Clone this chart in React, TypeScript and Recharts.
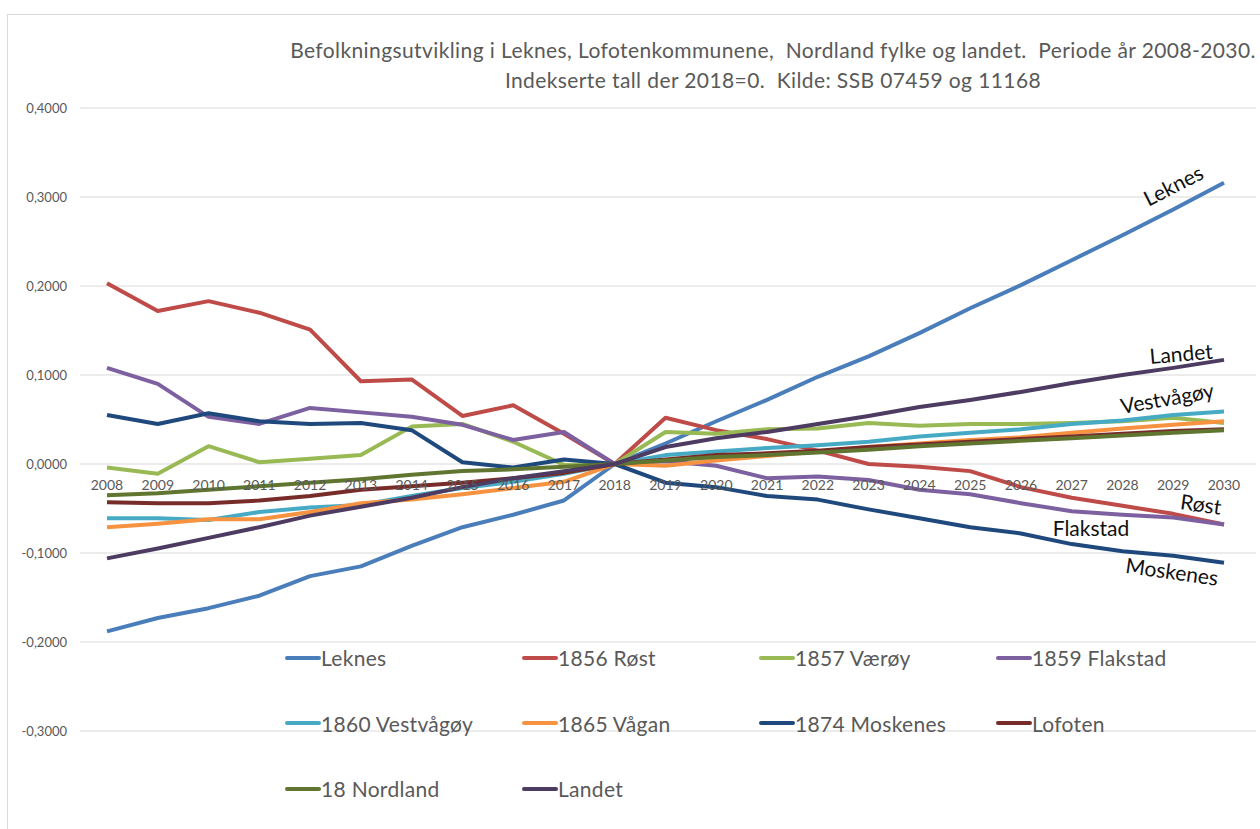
import { LineChart, Line, XAxis, YAxis, CartesianGrid, LabelList } from 'recharts';

const years = ['2008', '2009', '2010', '2011', '2012', '2013', '2014', '2015', '2016', '2017', '2018', '2019',
    '2020', '2021', '2022', '2023', '2024', '2025', '2026', '2027', '2028', '2029', '2030'];

const leknes = [-0.188, -0.173, -0.162, -0.148, -0.126, -0.115, -0.092, -0.071, -0.057, -0.041, 0, 0.023,
    0.048, 0.072, 0.098, 0.121, 0.147, 0.175, 0.201, 0.229, 0.257, 0.286, 0.316];
const rost = [0.203, 0.172, 0.183, 0.170, 0.151, 0.093, 0.095, 0.054, 0.066, 0.034, 0, 0.052,
    0.038, 0.028, 0.015, 0.000, -0.003, -0.008, -0.026, -0.038, -0.047, -0.056, -0.068];
const varoy = [-0.004, -0.011, 0.020, 0.002, 0.006, 0.010, 0.042, 0.045, 0.025, -0.001, 0, 0.036,
    0.034, 0.039, 0.040, 0.046, 0.043, 0.045, 0.045, 0.046, 0.048, 0.052, 0.046];
const flakstad = [0.108, 0.090, 0.053, 0.045, 0.063, 0.058, 0.053, 0.044, 0.027, 0.036, 0, 0.003,
    -0.002, -0.016, -0.014, -0.018, -0.029, -0.034, -0.044, -0.053, -0.057, -0.060, -0.068];
const vestvagoy = [-0.061, -0.061, -0.063, -0.054, -0.049, -0.046, -0.036, -0.027, -0.020, -0.011, 0, 0.010,
    0.014, 0.018, 0.021, 0.025, 0.031, 0.035, 0.039, 0.045, 0.049, 0.055, 0.059];
const vagan = [-0.071, -0.067, -0.062, -0.062, -0.054, -0.044, -0.040, -0.034, -0.027, -0.020, 0, -0.002,
    0.004, 0.009, 0.014, 0.019, 0.023, 0.027, 0.030, 0.035, 0.040, 0.044, 0.048];
const moskenes = [0.055, 0.045, 0.057, 0.048, 0.045, 0.046, 0.038, 0.002, -0.004, 0.005, 0, -0.021,
    -0.026, -0.036, -0.040, -0.051, -0.061, -0.071, -0.078, -0.090, -0.098, -0.103, -0.111];
const lofoten = [-0.043, -0.044, -0.044, -0.041, -0.036, -0.029, -0.025, -0.021, -0.016, -0.010, 0, 0.005,
    0.010, 0.012, 0.015, 0.019, 0.022, 0.025, 0.028, 0.031, 0.034, 0.037, 0.039];
const nordland = [-0.035, -0.033, -0.029, -0.025, -0.021, -0.017, -0.012, -0.008, -0.006, -0.003, 0, 0.004,
    0.008, 0.010, 0.013, 0.016, 0.020, 0.023, 0.026, 0.029, 0.032, 0.035, 0.038];
const landet = [-0.106, -0.095, -0.083, -0.071, -0.058, -0.048, -0.038, -0.026, -0.016, -0.008, 0, 0.019,
    0.029, 0.036, 0.045, 0.054, 0.064, 0.072, 0.081, 0.091, 0.100, 0.108, 0.117];

// hidden baseline used to print the year labels along the 0-line, like Excel does
const zeroLine = [0, 0, 0, 0, 0, 0, 0, 0, 0, 0, 0, 0, 0, 0, 0, 0, 0, 0, 0, 0, 0, 0, 0];

const yTicks = [-0.3, -0.2, -0.1, 0, 0.1, 0.2, 0.3, 0.4];

const series = [
    { key: 'leknes', name: 'Leknes', values: leknes, color: '#4A7EBB' },
    { key: 'rost', name: '1856 Røst', values: rost, color: '#BE4B48' },
    { key: 'varoy', name: '1857 Værøy', values: varoy, color: '#98B954' },
    { key: 'flakstad', name: '1859 Flakstad', values: flakstad, color: '#7D60A0' },
    { key: 'vestvagoy', name: '1860 Vestvågøy', values: vestvagoy, color: '#46AAC5' },
    { key: 'vagan', name: '1865 Vågan', values: vagan, color: '#F69240' },
    { key: 'moskenes', name: '1874 Moskenes', values: moskenes, color: '#1F497D' },
    { key: 'lofoten', name: 'Lofoten', values: lofoten, color: '#772C2A' },
    { key: 'nordland', name: '18 Nordland', values: nordland, color: '#5F7530' },
    { key: 'landet', name: 'Landet', values: landet, color: '#4D3B62' },
];

// names written next to the last point of some lines
const endLabels: Record<string, { text: string; dx: number; dy: number; angle: number }> = {
    leknes: { text: 'Leknes', dx: -51, dy: 2, angle: -27 },
    landet: { text: 'Landet', dx: -43, dy: -7, angle: -5 },
    vestvagoy: { text: 'Vestvågøy', dx: -57, dy: -14, angle: -10 },
    rost: { text: 'Røst', dx: -23, dy: -21, angle: 8 },
    flakstad: { text: 'Flakstad', dx: -133, dy: 3, angle: 0 },
    moskenes: { text: 'Moskenes', dx: -52, dy: 8, angle: 8 },
};

const data = years.map((year, i) => {
    const row: Record<string, string | number> = { year, zero: zeroLine[i] };
    series.forEach(s => { row[s.key] = s.values[i]; });
    return row;
});

const FONT = 'Lato, "Open Sans", sans-serif';

const fmt = (v: number) => v.toFixed(4).replace('.', ',');

const makeEndLabel = (key: string) => (props: any) => {
    const cfg = endLabels[key];
    if (!cfg || props.index !== years.length - 1) return <g />;
    const x = props.x + cfg.dx;
    const y = props.y + cfg.dy;
    return (
        <text
            x={x}
            y={y}
            textAnchor='middle'
            dominantBaseline='central'
            fontSize={21}
            fontFamily={FONT}
            fill='#111'
            transform={`rotate(${cfg.angle}, ${x}, ${y})`}
        >
            {cfg.text}
        </text>
    );
};

const App = () => {
    return (
        <div style={{ position: 'absolute', left: 0, top: 0, width: 1260, height: 829, overflow: 'hidden', background: '#fff', fontFamily: FONT }}>
            <div style={{ position: 'absolute', left: 7, top: 14, width: 1300, height: 900, border: '1px solid #d9d9d9' }} />

            <div style={{
                position: 'absolute', left: 223, top: 35, width: 1100, textAlign: 'center',
                fontSize: 21, letterSpacing: 0.4, lineHeight: '30px', color: '#595959', whiteSpace: 'pre'
            }}>
                {'Befolkningsutvikling i Leknes, Lofotenkommunene,  Nordland fylke og landet.  Periode år 2008-2030.'}
                <br />
                {'Indekserte tall der 2018=0.  Kilde: SSB 07459 og 11168'}
            </div>

            <div style={{ position: 'absolute', left: 0, top: 0 }}>
                <LineChart width={1260} height={829} data={data} margin={{ top: 108, right: 4, bottom: 98, left: 0 }}>
                    <CartesianGrid vertical={false} stroke='#d9d9d9' strokeWidth={1} />
                    <XAxis dataKey='year' hide padding={{ left: 27, right: 32 }} />
                    <YAxis
                        width={80}
                        domain={[-0.3, 0.4]}
                        ticks={yTicks}
                        tickFormatter={fmt}
                        axisLine={false}
                        tickLine={false}
                        tickMargin={7}
                        tick={{ fontSize: 13, fill: '#595959', fontFamily: FONT }}
                    />
                    <Line dataKey='zero' stroke='none' dot={false} isAnimationActive={false} legendType='none'>
                        <LabelList dataKey='year' position='bottom' offset={16} fontSize={14} fill='#595959' fontFamily={FONT} />
                    </Line>
                    {series.map(s => (
                        <Line
                            key={s.key}
                            dataKey={s.key}
                            name={s.name}
                            stroke={s.color}
                            strokeWidth={4}
                            strokeLinejoin='round'
                            dot={false}
                            isAnimationActive={false}
                            label={makeEndLabel(s.key)}
                        />
                    ))}
                </LineChart>
            </div>

            <div style={{
                position: 'absolute', left: 285, top: 625, width: 960,
                display: 'grid', gridTemplateColumns: 'repeat(4, 237px)'
            }}>
                {series.map(s => (
                    <div key={s.key} style={{ display: 'flex', alignItems: 'center', height: 65.5 }}>
                        <span style={{ display: 'inline-block', width: 36, height: 4, borderRadius: 2, background: s.color }} />
                        <span style={{ fontSize: 21, letterSpacing: 0.3, color: '#595959', whiteSpace: 'nowrap' }}>{s.name}</span>
                    </div>
                ))}
            </div>
        </div>
    );
};

export default App;
